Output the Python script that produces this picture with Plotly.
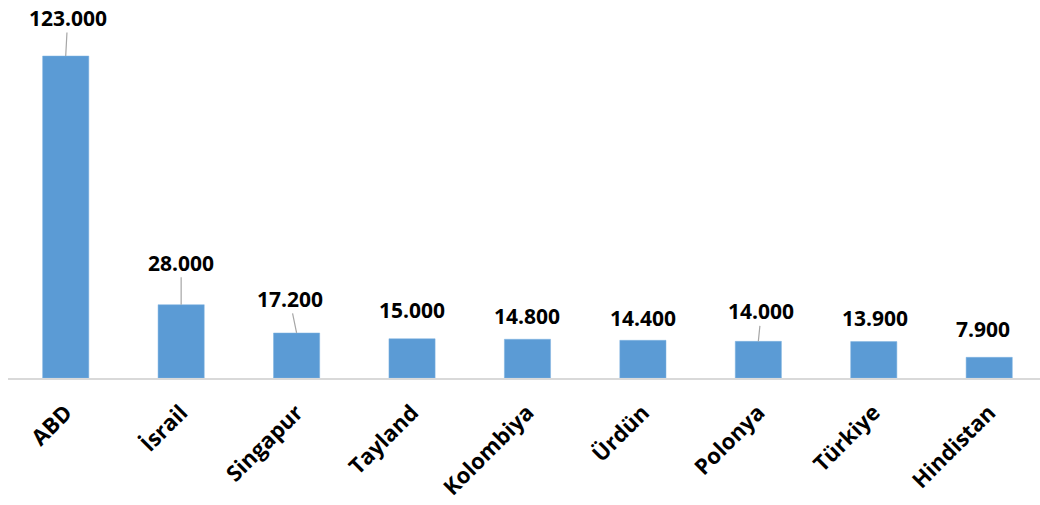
import plotly.graph_objects as go

categories = ["ABD", "İsrail", "Singapur", "Tayland", "Kolombiya", "Ürdün", "Polonya", "Türkiye", "Hindistan"]
values = [123000, 28000, 17200, 15000, 14800, 14400, 14000, 13900, 7900]
labels = ["123.000", "28.000", "17.200", "15.000", "14.800", "14.400", "14.000", "13.900", "7.900"]

# label offsets (pixels) and whether a leader line is drawn
offsets = [(2, -38), (0, -42), (-7, -34), (0, -29), (0, -23), (0, -22), (3, -30), (1, -24), (-6, -28)]
leader = [True, True, True, False, False, False, True, False, False]

FONT = "Open Sans"

fig = go.Figure(go.Bar(
    x=categories, y=values,
    marker=dict(color="#5B9BD5", line=dict(color="#7FB2E0", width=0.5)),
    width=0.4,
))

for c, v, t, (dx, dy), ld in zip(categories, values, labels, offsets, leader):
    fig.add_annotation(
        x=c, y=v, text=t, showarrow=True, ax=dx, ay=dy,
        axref="pixel", ayref="pixel",
        arrowhead=0, arrowwidth=1.2, standoff=0, startstandoff=0,
        arrowcolor="#A6A6A6" if ld else "rgba(0,0,0,0)",
        font=dict(family=FONT, size=21, color="#000000", weight="bold"),
        borderpad=0,
    )

fig.update_layout(
    width=1040, height=505,
    margin=dict(l=8, r=0, t=0, b=127),
    plot_bgcolor="white", paper_bgcolor="white",
    showlegend=False,
    xaxis=dict(
        range=[-0.5, 8.44], showgrid=False, tickangle=-45,
        showline=True, linecolor="#D9D9D9", linewidth=2,
        ticks="", ticklabelstandoff=11,
        tickfont=dict(family=FONT, size=22, color="#000000", weight="bold"),
        automargin=False,
    ),
    yaxis=dict(range=[0, 144400], visible=False, showgrid=False, zeroline=False),
)

fig.write_html("out.html")
